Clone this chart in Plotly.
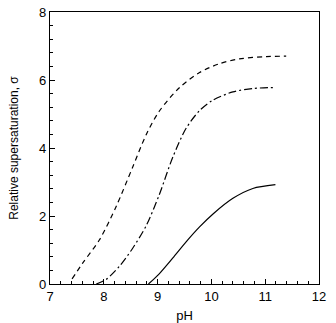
import plotly.graph_objects as go

# Data
ph_dash = [7.41, 7.61, 7.92, 8.23, 8.54, 8.79, 9.03, 9.41, 9.78, 10.15, 10.52, 11.02, 11.39]
sig_dash = [0.15, 0.62, 1.30, 2.28, 3.45, 4.40, 5.08, 5.78, 6.22, 6.48, 6.62, 6.69, 6.70]

ph_dashdot = [7.86, 8.04, 8.29, 8.54, 8.79, 9.03, 9.28, 9.53, 9.78, 10.03, 10.40, 10.77, 11.19]
sig_dashdot = [0.0, 0.13, 0.52, 1.06, 1.72, 2.62, 3.72, 4.58, 5.10, 5.41, 5.65, 5.75, 5.78]

ph_solid = [8.83, 9.03, 9.28, 9.53, 9.78, 10.03, 10.40, 10.77, 11.19]
sig_solid = [0.0, 0.30, 0.76, 1.24, 1.68, 2.06, 2.52, 2.81, 2.92]

x_ticks = [7, 8, 9, 10, 11, 12]
y_ticks = [0, 2, 4, 6, 8]

FONT = "Liberation Sans, Arial, sans-serif"

fig = go.Figure()
fig.add_trace(go.Scatter(x=ph_dash, y=sig_dash, mode="lines",
                         line=dict(color="black", width=1.2, dash="5px,4px", shape="spline", smoothing=0.8)))
fig.add_trace(go.Scatter(x=ph_dashdot, y=sig_dashdot, mode="lines",
                         line=dict(color="black", width=1.2, dash="8px,3px,2px,3px", shape="spline", smoothing=0.8)))
fig.add_trace(go.Scatter(x=ph_solid, y=sig_solid, mode="lines",
                         line=dict(color="black", width=1.2, shape="spline", smoothing=0.8)))

fig.update_layout(
    width=336, height=323,
    margin=dict(l=50, r=17, t=12, b=39),
    paper_bgcolor="white", plot_bgcolor="white",
    showlegend=False,
    font=dict(family=FONT, size=13, color="black"),
)
fig.update_xaxes(
    range=[7, 12], tickvals=x_ticks, ticktext=[str(v) for v in x_ticks],
    ticks="inside", ticklen=5, tickwidth=1, tickcolor="black",
    minor=dict(dtick=0.2, ticks="inside", ticklen=3, tickcolor="black"),
    showline=True, linecolor="black", linewidth=1.2, mirror=True,
    showgrid=False, zeroline=False, automargin=False,
    title=dict(text="pH", standoff=16, font=dict(size=13)),
)
fig.update_yaxes(
    range=[0, 8], tickvals=y_ticks, ticktext=[str(v) for v in y_ticks],
    ticks="inside", ticklen=5, tickwidth=1, tickcolor="black",
    minor=dict(dtick=0.4, ticks="inside", ticklen=3, tickcolor="black"),
    showline=True, linecolor="black", linewidth=1.2, mirror=True,
    showgrid=False, zeroline=False, automargin=False,
    title=dict(text="Relative supersaturation, σ", standoff=17, font=dict(size=12)),
)

fig.write_html("out.html")
